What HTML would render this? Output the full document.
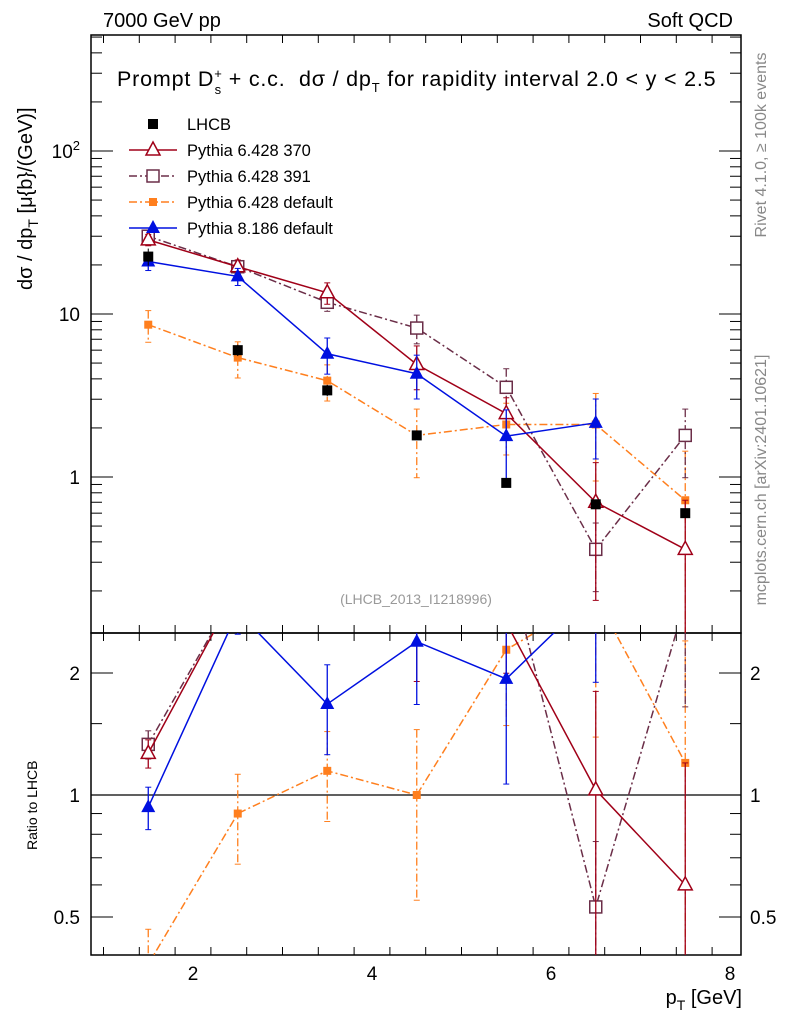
<!DOCTYPE html>
<html><head><meta charset="utf-8"><style>
html,body{margin:0;padding:0;background:#fff;overflow:hidden;width:786px;height:1024px;}
svg{display:block;font-family:"Liberation Sans",sans-serif;}
</style></head><body>
<svg id="c" width="786" height="1024" viewBox="0 0 786 1024"></svg>
<script>
const pts=[1.5,2.5,3.5,4.5,5.5,6.5,7.5];
const lhcb=[22.5,6.0,3.4,1.8,0.92,0.68,0.60];
const lhcbErr=[0.12,0.08,0.08,0.06,0.06,0.06,0.06];
const p370=[28.5,19.5,13.5,4.9,2.45,0.70,0.36];
const p370Err=[0.08,0.1,0.15,0.3,0.25,0.75,1.0];
const p391=[30,19.5,11.8,8.2,3.55,0.36,1.8];
const p391Err=[0.08,0.1,0.12,0.2,0.3,0.45,0.45];
const p6def=[8.6,5.4,3.9,1.8,2.1,2.1,0.72];
const p6defErr=[0.22,0.25,0.25,0.45,0.35,0.55,1.0];
const p8def=[21,17,5.7,4.3,1.78,2.15,null];
const p8defErr=[0.12,0.12,0.25,0.3,0.45,0.4,0];
const xTicks=[2,4,6,8];
const NS="http://www.w3.org/2000/svg";
const svg=document.getElementById('c');
function el(t,a,p){const e=document.createElementNS(NS,t);for(const k in a)e.setAttribute(k,a[k]);(p||svg).appendChild(e);return e;}
const L=91,R=741,T=35,M=633,B=955;
const X=v=>14+v*89.5;
const Y=v=>477-163*Math.log10(v);
const YR=v=>795-122*Math.log2(v);
let f=el('rect',{x:L,y:T,width:R-L,height:M-T,fill:'none',stroke:'#000','stroke-width':1.5});

f=el('rect',{x:L,y:M,width:R-L,height:B-M,fill:'none',stroke:'#000','stroke-width':1.5});

for(let v=1;v<=8.01;v+=0.4){const x=X(v);if(x<L||x>R)continue;
 const maj=xTicks.some(t=>Math.abs(t-v)<1e-6);const h=maj?16:8;
 el('line',{x1:x,y1:M,x2:x,y2:M-h,stroke:'#000'});el('line',{x1:x,y1:T,x2:x,y2:T+h,stroke:'#000'});
 el('line',{x1:x,y1:B,x2:x,y2:B-h,stroke:'#000'});el('line',{x1:x,y1:M,x2:x,y2:M+h,stroke:'#000'});}
xTicks.forEach(t=>{const e=el('text',{x:X(t),y:980,'font-size':19,'text-anchor':'middle'});e.textContent=t;
 });
for(let d=-1;d<=2;d++)for(let m=1;m<10;m++){const v=m*Math.pow(10,d);const y=Y(v);if(y<T||y>M)continue;
 const h=m==1?22:11;el('line',{x1:L,y1:y,x2:L+h,y2:y,stroke:'#000'});el('line',{x1:R,y1:y,x2:R-h,y2:y,stroke:'#000'});}
[[1,'1'],[10,'10']].forEach(([v,s])=>{const e=el('text',{x:80,y:Y(v)+7,'font-size':19,'text-anchor':'end'});e.textContent=s;
 });
let e=el('text',{x:80,y:Y(100)+7,'font-size':19,'text-anchor':'end'});e.innerHTML='10<tspan dy="-8" font-size="13">2</tspan>';

[0.5,1,2].forEach(v=>{const y=YR(v);el('line',{x1:L,y1:y,x2:L+22,y2:y,stroke:'#000'});el('line',{x1:R,y1:y,x2:R-22,y2:y,stroke:'#000'});
 ['l','r'].forEach(s=>{const t=el('text',{x:s=='l'?80:750,y:y+7,'font-size':19,'text-anchor':s=='l'?'end':'start'});t.textContent=v;
 });});
[0.6,0.7,0.8,0.9,1.5].forEach(v=>{const y=YR(v);el('line',{x1:L,y1:y,x2:L+11,y2:y,stroke:'#000'});el('line',{x1:R,y1:y,x2:R-11,y2:y,stroke:'#000'});});
el('line',{x1:L,y1:YR(1),x2:R,y2:YR(1),stroke:'#000','stroke-width':1.2});
const defs=el('defs',{});
let cp=el('clipPath',{id:'cm'},defs);el('rect',{x:L,y:T,width:R-L,height:M-T},cp);
cp=el('clipPath',{id:'cr'},defs);el('rect',{x:L,y:M,width:R-L,height:B-M},cp);
const gm=el('g',{'clip-path':'url(#cm)'});const gr=el('g',{'clip-path':'url(#cr)'});
function marker(g,type,x,y,col,name){let m;
 if(type=='sq')m=el('rect',{x:x-5,y:y-5,width:10,height:10,fill:col},g);
 else if(type=='osq')m=el('rect',{x:x-6,y:y-6,width:12,height:12,fill:'#fff',stroke:col,'stroke-width':1.5},g);
 else if(type=='ssq')m=el('rect',{x:x-4,y:y-4,width:8,height:8,fill:col},g);
 else if(type=='tri')m=el('polygon',{points:`${x},${y-8} ${x-7},${y+5} ${x+7},${y+5}`,fill:col},g);
 else m=el('polygon',{points:`${x},${y-8} ${x-7},${y+5} ${x+7},${y+5}`,fill:'#fff',stroke:col,'stroke-width':1.5},g);
 }
function series(vals,errs,col,dash,mk,name){
 [gm,gr].forEach((g,k)=>{const Yf=k?YR:Y;
  const arr=vals.map((v,i)=>v==null?null:(k==0?v:v/lhcb[i]));
  let d='';arr.forEach((v,i)=>{if(v==null)return;d+=(d?'L':'M')+X(pts[i])+','+Yf(v);});
  const p=el('path',{d:d,fill:'none',stroke:col,'stroke-width':1.5,'stroke-dasharray':dash||''},g);
  
  arr.forEach((v,i)=>{if(v==null)return;const x=X(pts[i]);const er=errs[i];
   const y1=Yf(v*(1+er)),y2=Yf(Math.max(v*(1-er),1e-3));
   el('line',{x1:x,y1:y1,x2:x,y2:y2,stroke:col,'stroke-width':1.3,'stroke-dasharray':dash||''},g);
   el('line',{x1:x-3,y1:y1,x2:x+3,y2:y1,stroke:col},g);el('line',{x1:x-3,y1:y2,x2:x+3,y2:y2,stroke:col},g);
   marker(g,mk,x,Yf(v),col,name+'-point');});
 });}
series(p6def,p6defErr,'#ff7f1e','8,3,2,3','ssq','pythia6-default');
series(p391,p391Err,'#6b2e48','8,3,2,3','osq','pythia6-391');
series(p370,p370Err,'#a00018',null,'otri','pythia6-370');
series(p8def,p8defErr,'#0010e0',null,'tri','pythia8-default');
lhcb.forEach((v,i)=>{const x=X(pts[i]);const y=Y(v);
 el('line',{x1:x,y1:Y(v*(1+lhcbErr[i])),x2:x,y2:Y(v*(1-lhcbErr[i])),stroke:'#000'},gm);
 marker(gm,'sq',x,y,'#000','lhcb-point');});
const leg=[['LHCB','#000',null,'sq',false],['Pythia 6.428 370','#a00018',null,'otri',true],['Pythia 6.428 391','#6b2e48','8,3,2,3','osq',true],['Pythia 6.428 default','#ff7f1e','8,3,2,3','ssq',true],['Pythia 8.186 default','#0010e0',null,'tri',true]];
leg.forEach((l,i)=>{const y=124+i*26;const g=el('g',{});
 if(l[4])el('line',{x1:129,y1:y,x2:177,y2:y,stroke:l[1],'stroke-width':1.5,'stroke-dasharray':l[2]||''},g);
 marker(g,l[3],153,y,l[1],'legend-marker');
 const t=el('text',{x:187,y:y+6,'font-size':16.5},g);t.textContent=l[0];});
function txt(x,y,s,a,name){const t=el('text',Object.assign({x:x,y:y},a));t.innerHTML=s;return t;}
txt(103,27,'7000 GeV pp',{'font-size':20},'energy-label');
txt(733,27,'Soft QCD',{'font-size':20,'text-anchor':'end'},'process-label');
txt(117,86,'Prompt D<tspan dy="-8" font-size="13">+</tspan><tspan dy="16" dx="-8" font-size="13">s</tspan><tspan dy="-8"> + c.c.  dσ / dp</tspan><tspan dy="6" font-size="13">T</tspan><tspan dy="-6"> for rapidity interval 2.0 &lt; y &lt; 2.5</tspan>',{'font-size':21.5,'letter-spacing':'0.8',style:'white-space:pre'},'plot-title');
txt(416,604,'(LHCB_2013_I1218996)',{'font-size':14,fill:'#999','text-anchor':'middle'},'analysis-id');
txt(0,0,'dσ / dp<tspan dy="6" font-size="14">T</tspan><tspan dy="-6"> [μ{b}/(GeV)]</tspan>',{'font-size':20,transform:'translate(32,290) rotate(-90)'},'y-axis-title');
txt(0,0,'Ratio to LHCB',{'font-size':14,transform:'translate(37,850) rotate(-90)'},'ratio-axis-title');
txt(0,0,'p<tspan dy="6" font-size="14">T</tspan><tspan dy="-6"> [GeV]</tspan>',{'font-size':20,'text-anchor':'end',transform:'translate(742,1004)'},'x-axis-title');
txt(0,0,'Rivet 4.1.0, ≥ 100k events',{'font-size':16,fill:'#888','text-anchor':'middle',transform:'translate(766,145) rotate(-90)'},'rivet-label');
txt(0,0,'mcplots.cern.ch [arXiv:2401.10621]',{'font-size':16,fill:'#888','text-anchor':'middle',transform:'translate(766,480) rotate(-90)'},'mcplots-label');
</script>
</body></html>
